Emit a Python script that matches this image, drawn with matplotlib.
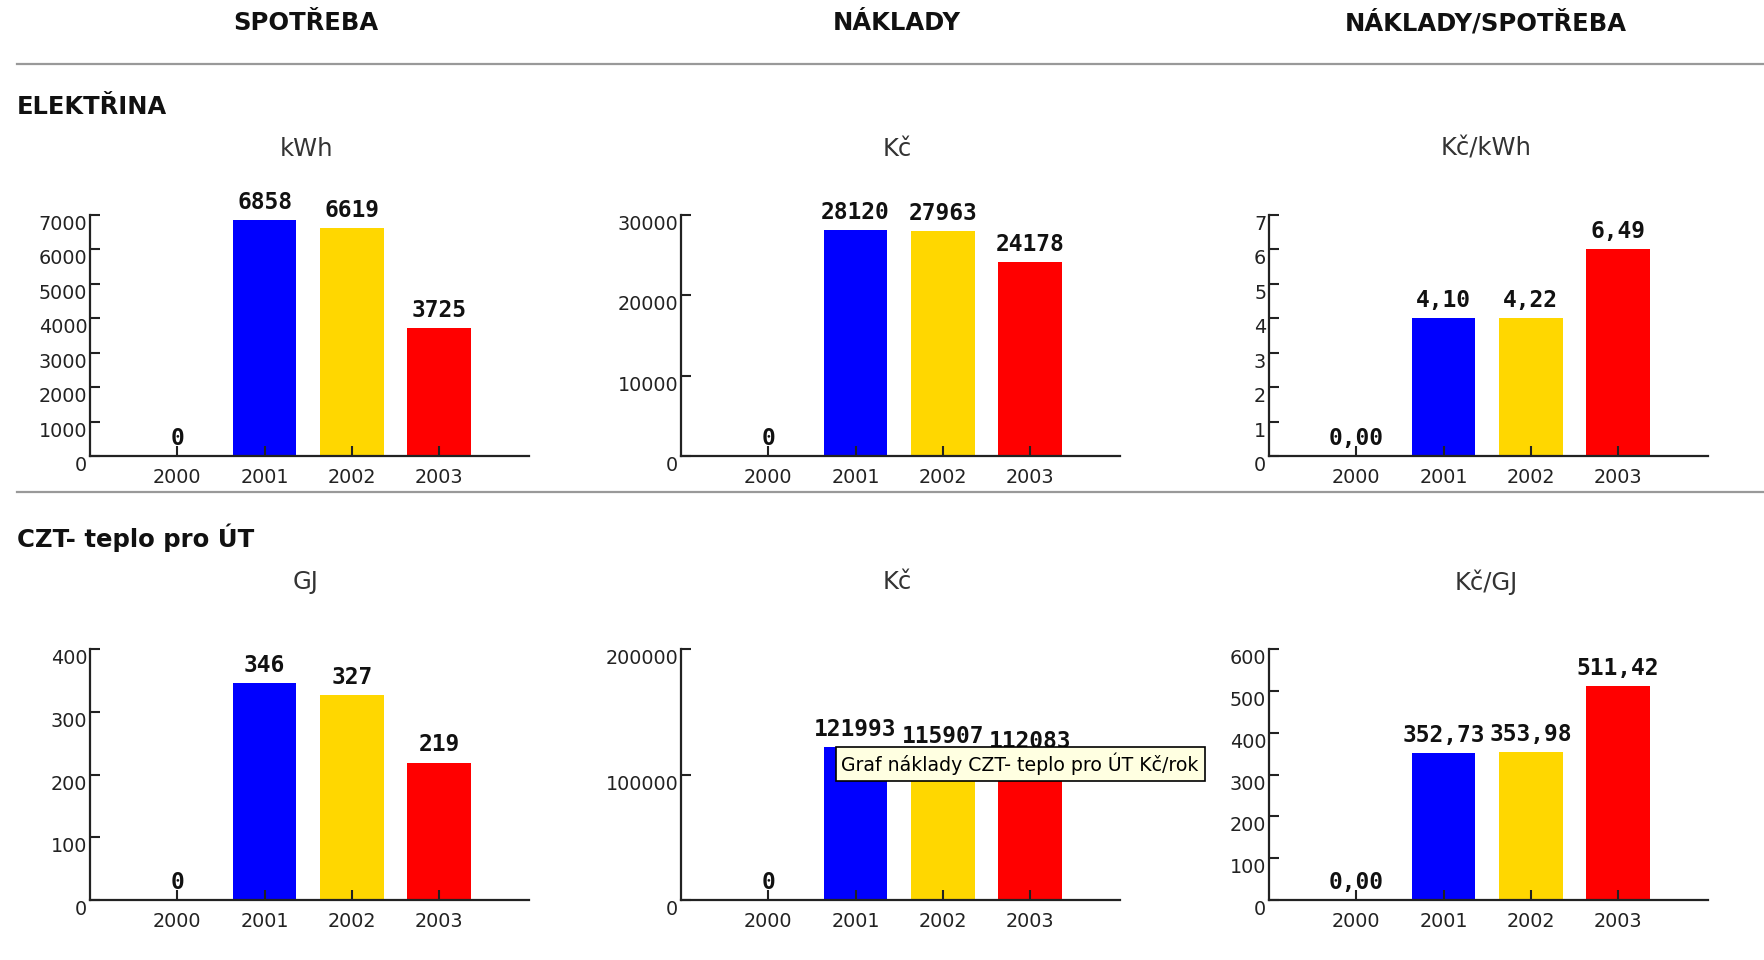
import numpy as np
import matplotlib
matplotlib.use("Agg")
import matplotlib.pyplot as plt
from matplotlib.patches import Rectangle
from matplotlib.lines import Line2D

plt.rcParams['font.family'] = ['DejaVu Sans']

W, H = 1764, 960

years = ['2000', '2001', '2002', '2003']
bar_colors = ['#0000ff', '#0000ff', '#ffd700', '#ff0000']

# ELEKTŘINA
el_kwh = [0, 6858, 6619, 3725]
el_kc = [0, 28120, 27963, 24178]
el_ratio = [0.00, 4.10, 4.22, 6.49]

# CZT- teplo pro ÚT
czt_gj = [0, 346, 327, 219]
czt_kc = [0, 121993, 115907, 112083]
czt_ratio = [0.00, 352.73, 353.98, 511.42]

headers = ['SPOTŘEBA', 'NÁKLADY', 'NÁKLADY/SPOTŘEBA']
units_el = ['kWh', 'Kč', 'Kč/kWh']
units_czt = ['GJ', 'Kč', 'Kč/GJ']

col_left = [90, 681, 1269]
col_center = [306, 897, 1486]
ax_w = 439

fig = plt.figure(figsize=(W / 100, H / 100), dpi=100)
fig.patch.set_facecolor('white')


def fx(px):
    return px / W


def fy(py):
    return 1 - py / H


def panel(left, top, bottom, vals, ymax, step, dec):
    ax = fig.add_axes([fx(left), fy(bottom), ax_w / W, (bottom - top) / H])
    x = np.arange(len(years))
    # the original engine draws whole-number bar heights
    heights = np.floor(vals)
    ax.bar(x, heights, width=0.73, color=bar_colors, linewidth=0)
    ax.set_xlim(-1.0, 4.03)
    ax.set_ylim(0, ymax)
    ax.set_xticks(x)
    ax.set_xticklabels(years)
    yt = np.arange(0, ymax + step / 2, step)
    ax.set_yticks(yt)
    ax.set_yticklabels([str(int(t)) for t in yt])
    for s in ['top', 'right']:
        ax.spines[s].set_visible(False)
    for s in ['left', 'bottom']:
        ax.spines[s].set_color('#222222')
        ax.spines[s].set_linewidth(1.6)
    ax.tick_params(axis='both', direction='in', length=7, width=1.5,
                   color='#222222', labelcolor='#222222', labelsize=13.8)
    ax.tick_params(axis='x', pad=8.5)
    ax.tick_params(axis='y', pad=2)
    for lab in ax.get_yticklabels():
        lab.set_verticalalignment('top')
    for xi, v, h in zip(x, vals, heights):
        if dec:
            txt = f"{v:.2f}".replace('.', ',')
        else:
            txt = f"{int(v)}"
        ax.annotate(txt, (xi, h), xytext=(0, 8), textcoords='offset points',
                    ha='center', va='baseline', fontsize=16.5,
                    fontfamily='DejaVu Sans Mono', fontweight='bold',
                    color='#111111')
    return ax


# row 1
panel(col_left[0], 215, 456, el_kwh, 7000, 1000, False)
panel(col_left[1], 215, 456, el_kc, 30000, 10000, False)
panel(col_left[2], 215, 456, el_ratio, 7, 1, True)

# row 2
panel(col_left[0], 649, 900, czt_gj, 400, 100, False)
panel(col_left[1], 649, 900, czt_kc, 200000, 100000, False)
panel(col_left[2], 649, 900, czt_ratio, 600, 100, True)

# column headers
for cx, t in zip(col_center, headers):
    fig.text(fx(cx), fy(23), t, ha='center', va='center', fontsize=17.5,
             fontweight='bold', color='#111111')

# separator lines
for ly in [64, 492]:
    fig.add_artist(Line2D([fx(17), 1.0], [fy(ly), fy(ly)], color='#999999',
                          linewidth=1.6))

# section titles
fig.text(fx(17), fy(107), 'ELEKTŘINA', ha='left', va='center', fontsize=17.4,
         fontweight='bold', color='#111111')
fig.text(fx(17), fy(538), 'CZT- teplo pro ÚT', ha='left', va='center',
         fontsize=17.6, fontweight='bold', color='#111111')

# unit labels
for cx, t in zip(col_center, units_el):
    fig.text(fx(cx), fy(149), t, ha='center', va='center', fontsize=17.5,
             color='#333333')
for cx, t in zip(col_center, units_czt):
    fig.text(fx(cx), fy(582), t, ha='center', va='center', fontsize=17.5,
             color='#333333')

# tooltip
fig.add_artist(Rectangle((fx(836), fy(781)), (1205 - 836) / W, (781 - 747) / H,
                         facecolor='#ffffe1', edgecolor='black', linewidth=1.2,
                         zorder=10))
fig.text(fx(841), fy(764), 'Graf náklady CZT- teplo pro ÚT Kč/rok', ha='left',
         va='center', fontsize=13.6, color='black', zorder=11)

fig.savefig('out.png', dpi=100, facecolor='white')
